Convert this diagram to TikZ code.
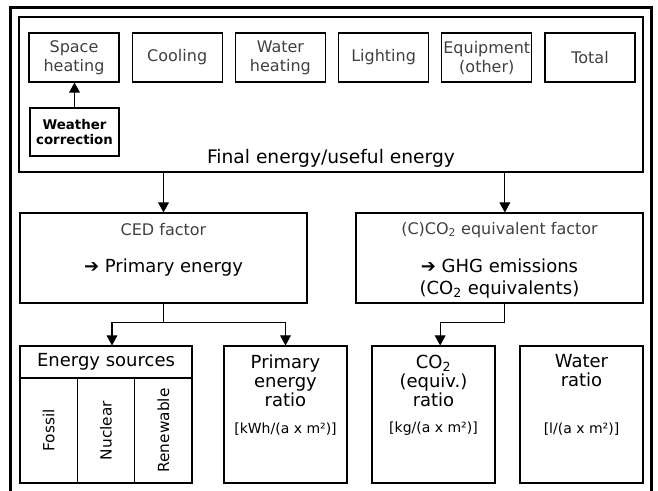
\documentclass[tikz,border=0pt]{standalone}
\usepackage{fontspec}
\setmainfont{DejaVu Sans}
\usetikzlibrary{arrows.meta}

\tikzset{
  box/.style={draw, line width=0.8pt, inner sep=0pt, align=center},
  enduse/.style={box, minimum width=67.5pt, minimum height=36.75pt, text=black!75, font=\fontsize{12}{14.25}\selectfont},
  factorbox/.style={box, minimum width=215.25pt, minimum height=67.5pt},
  ratiobox/.style={box, minimum width=92.25pt, minimum height=102.75pt},
  colbox/.style={box, rotate=90, minimum width=78.75pt, minimum height=43pt, font=\fontsize{11.5}{13}\selectfont},
  title/.style={align=center, inner sep=0pt, font=\fontsize{13.5}{14.25}\selectfont},
  lightlbl/.style={inner sep=0pt, text=black!75, font=\fontsize{12}{14}\selectfont},
  unitlbl/.style={inner sep=0pt, font=\fontsize{10.5}{12}\selectfont},
  arr/.style={line width=0.8pt, -{Triangle[length=7.5pt,width=8pt]}}
}

\begin{document}
\begin{tikzpicture}[x=0.75pt, y=-0.75pt]
  \clip (0,0) rectangle (658,491);
  \draw[line width=2pt] (10.5,7.5) rectangle (651.5,520);

  % final energy frame and end uses
  \node[box, minimum width=468pt, minimum height=116.25pt] (final) at (331,94.5) {};
  \node[enduse] (space) at (74,57.5) {Space\\heating};
  \node[enduse] (cooling) at (177.2,57.5) {Cooling};
  \node[enduse] (waterh) at (280.4,57.5) {Water\\heating};
  \node[enduse] (lighting) at (383.6,57.5) {Lighting};
  \node[enduse] (equip) at (486.8,57.5) {Equipment\\(other)};
  \node[enduse] (total) at (590,57.5) {Total};
  \node[box, minimum width=66.75pt, minimum height=36pt, font=\bfseries\fontsize{10}{11.25}\selectfont] (weather) at (74.5,132) {Weather\\correction};
  \draw[arr] (weather.north) -- (weather.north |- space.south);
  \node[inner sep=0pt, font=\fontsize{14}{16}\selectfont] (finallbl) at (331,158) {Final energy/useful energy};

  % factors
  \node[factorbox] (ced) at (163.5,258) {};
  \node[lightlbl] (cedtitle) at (163.5,230) {CED factor};
  \node[title] (cedres) at (163.5,268) {\textbf{➔} Primary energy};
  \node[factorbox] (co2) at (499.5,258) {};
  \node[lightlbl] (co2title) at (499.5,230) {(C)CO\textsubscript{2} equivalent factor};
  \node[title, font=\fontsize{13.5}{16.5}\selectfont] (co2res) at (499.5,279) {\textbf{➔} GHG emissions\\(CO\textsubscript{2} equivalents)};

  \coordinate (co2in) at ([xshift=4pt]co2.north);
  \coordinate (co2out) at ([xshift=4pt]co2.south);
  \draw[arr] (ced.north |- final.south) -- (ced.north);
  \draw[arr] (co2in |- final.south) -- (co2in);

  % results
  \node[box, minimum width=129pt, minimum height=24pt, font=\fontsize{13.5}{15}\selectfont] (srchead) at (106,362) {Energy sources};
  \node[colbox] (fossil) at (48.67,430.5) {Fossil};
  \node[colbox] (nuclear) at (106,430.5) {Nuclear};
  \node[colbox] (renew) at (163.33,430.5) {Renewable};

  \node[ratiobox] (pratio) at (285.5,414.5) {};
  \node[title] (pratiolbl) at (285.5,381) {Primary\\energy\\ratio};
  \node[unitlbl] (pratiounit) at (285.5,429) {[kWh/(a x m²)]};
  \node[ratiobox] (co2ratio) at (433.5,414.5) {};
  \node[title] (co2ratiolbl) at (433.5,381) {CO\textsubscript{2}\\(equiv.)\\ratio};
  \node[unitlbl] (co2ratiounit) at (433.5,429) {[kg/(a x m²)]};
  \node[ratiobox] (wratio) at (581.5,414.5) {};
  \node[title] (wratiolbl) at (581.5,371) {Water\\ratio};
  \node[unitlbl] (wratiounit) at (581.5,429) {[l/(a x m²)]};

  \draw[arr] (ced.south) -- ++(0,19) coordinate (cedsplit) -| ([xshift=4.5pt]srchead.north);
  \draw[arr] (cedsplit) -| (pratio.north);
  \draw[arr] (co2out) -- ++(0,19) -| ([xshift=5pt]co2ratio.north);
\end{tikzpicture}
\end{document}
